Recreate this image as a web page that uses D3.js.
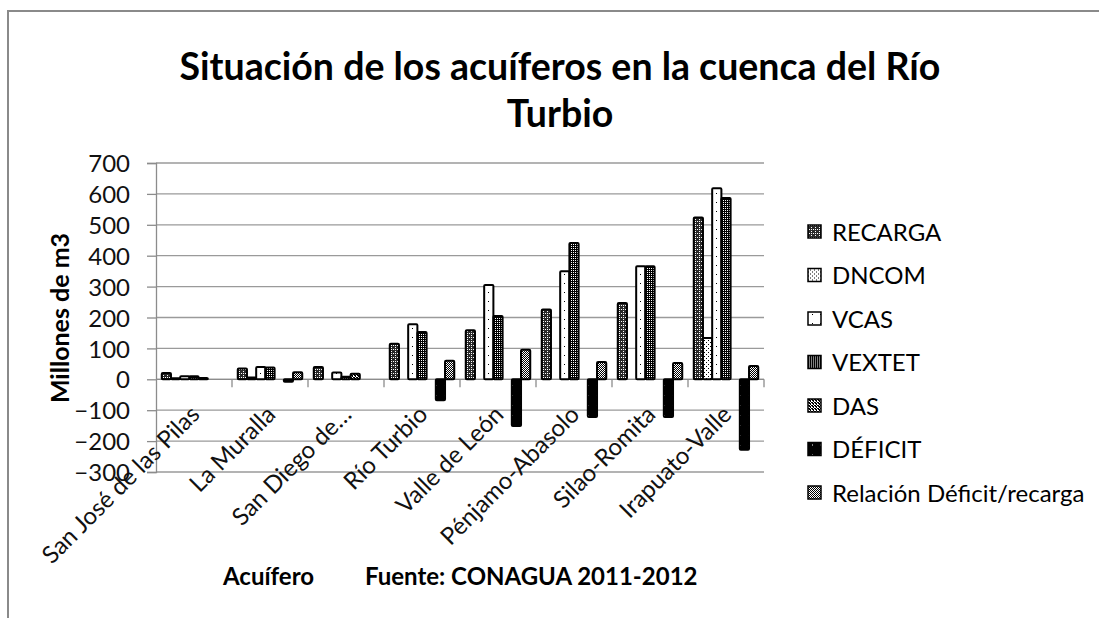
<!DOCTYPE html>
<html>
<head>
  <meta charset="utf-8">
  <script src="https://cdn.jsdelivr.net/npm/d3@7"></script>
  <style type="text/css">
    body {
      margin: 0;
      background: #fff;
      font-family: Lato, "Open Sans", sans-serif;
    }
    .grid line {
      stroke: #9a9a9a;
      stroke-width: 1.3px;
    }
    .axis path, .axis line {
      stroke: #8c8c8c;
      stroke-width: 1.3px;
    }
    .axis text {
      font-family: Lato, sans-serif;
      font-size: 24px;
      fill: #111;
    }
    rect.bar {
      stroke: #000;
      stroke-width: 2px;
    }
  </style>
</head>
<body>
  <script type="text/javascript">

  // data (millones de m3)
  const categories = ['San José de las Pilas', 'La Muralla', 'San Diego de…', 'Río Turbio',
                      'Valle de León', 'Pénjamo-Abasolo', 'Silao-Romita', 'Irapuato-Valle'];
  const seriesNames = ['RECARGA', 'DNCOM', 'VCAS', 'VEXTET', 'DAS', 'DÉFICIT', 'Relación Déficit/recarga'];
  const recarga  = [20, 35, 40, 115, 159, 226, 247, 524];
  const dncom    = [3, 6, 0, 0, 0, 0, 0, 134];
  const vcas     = [10, 40, 22, 178, 305, 350, 366, 618];
  const vextet   = [10, 38, 8, 153, 205, 441, 366, 587];
  const das      = [4, 0, 18, 0, 0, 0, 0, 0];
  const deficit  = [0, -8, 0, -68, -151, -122, -122, -228];
  const relacion = [0, 23, 0, 60, 96, 56, 53, 43];
  const yTicks   = [-300, -200, -100, 0, 100, 200, 300, 400, 500, 600, 700];

  const seriesValues = [recarga, dncom, vcas, vextet, das, deficit, relacion];

  const W = 1099, H = 618;
  const plot = {left: 156, right: 764, top: 163, bottom: 472};

  const svg = d3.select('body').append('svg')
    .attr('width', W)
    .attr('height', H);

  // fill patterns (grayscale like the original print-style chart)
  const defs = svg.append('defs');
  function pattern(id, w, h, bg, fg, dots) {
    const p = defs.append('pattern')
      .attr('id', id)
      .attr('patternUnits', 'userSpaceOnUse')
      .attr('width', w).attr('height', h);
    p.append('rect').attr('width', w).attr('height', h).attr('fill', bg);
    dots.forEach(d => p.append('rect')
      .attr('x', d[0]).attr('y', d[1]).attr('width', 1).attr('height', 1).attr('fill', fg));
  }
  pattern('p0', 4, 4, '#2a2a2a', '#fff', [[1, 1], [3, 3], [3, 1]]);
  pattern('p1', 4, 4, '#fff', '#000', [[0, 0], [2, 2]]);
  pattern('p2', 8, 9, '#fff', '#000', [[4, 4]]);
  pattern('p3', 2, 2, '#000', '#fff', [[1, 0]]);
  pattern('p4', 3, 3, '#000', '#fff', [[0, 0], [1, 1], [2, 2], [0, 1]]);
  pattern('p5', 8, 10, '#000', '#fff', [[4, 5]]);
  pattern('p6', 2, 2, '#000', '#fff', [[0, 0], [1, 1]]);

  // outer frame
  svg.append('rect')
    .attr('x', 8).attr('y', 11)
    .attr('width', W + 20).attr('height', H + 20)
    .attr('fill', 'none')
    .attr('stroke', '#8a8a8a')
    .attr('stroke-width', 2);

  // scales
  const y = d3.scaleLinear().domain([-300, 700]).range([plot.bottom, plot.top]);
  const x0 = d3.scaleBand().domain(categories).range([plot.left, plot.right]).padding(0);
  const bw = x0.bandwidth();
  const gap = bw * 1.25 / (seriesNames.length + 1.25);
  const x1 = d3.scaleBand().domain(seriesNames).range([gap / 2, bw - gap / 2]).padding(0);

  // gridlines
  svg.append('g').attr('class', 'grid')
    .selectAll('line').data(yTicks).join('line')
    .attr('x1', plot.left).attr('x2', plot.right)
    .attr('y1', d => y(d)).attr('y2', d => y(d));

  // y axis
  const yaxis = d3.axisLeft(y).tickValues(yTicks).tickSize(9).tickPadding(17);
  svg.append('g').attr('class', 'y axis')
    .attr('transform', `translate(${plot.left},0)`)
    .call(yaxis)
    .call(g => g.selectAll('.tick text').attr('dy', '0.36em'));

  // category axis along zero
  const xa = svg.append('g').attr('class', 'x axis');
  xa.append('line')
    .attr('x1', plot.left).attr('x2', plot.right)
    .attr('y1', y(0)).attr('y2', y(0));
  xa.selectAll('line.tk').data(categories.slice(1).concat(['end'])).join('line')
    .attr('class', 'tk')
    .attr('x1', d => d === 'end' ? plot.right : x0(d))
    .attr('x2', d => d === 'end' ? plot.right : x0(d))
    .attr('y1', y(0)).attr('y2', y(0) + 8);
  xa.selectAll('text').data(categories).join('text')
    .attr('text-anchor', 'end')
    .attr('transform', d => `translate(${x0(d) + bw / 2 + 7},416) rotate(-45)`)
    .text(d => d);

  // bars
  const groups = svg.append('g').selectAll('g').data(categories).join('g')
    .attr('transform', d => `translate(${x0(d)},0)`);
  groups.selectAll('rect').data((c, i) => seriesNames.map((s, k) => ({s: s, k: k, v: seriesValues[k][i]})))
    .join('rect')
    .filter(d => d.v !== 0)
    .attr('class', 'bar')
    .attr('x', d => x1(d.s))
    .attr('width', x1.bandwidth())
    .attr('y', d => y(Math.max(0, d.v)))
    .attr('height', d => Math.abs(y(d.v) - y(0)))
    .attr('rx', 1)
    .attr('fill', d => `url(#p${d.k})`);

  // legend
  const legend = svg.append('g').selectAll('g').data(seriesNames).join('g')
    .attr('transform', (d, i) => `translate(808,${232 + i * 43.5})`);
  legend.append('rect')
    .attr('x', 0).attr('y', -7)
    .attr('width', 13).attr('height', 13)
    .attr('stroke', '#000').attr('stroke-width', 1.5)
    .attr('fill', (d, i) => `url(#p${i})`);
  legend.append('text')
    .attr('x', 24).attr('dy', '0.36em')
    .style('font-size', '24px')
    .text(d => d);

  // title, two lines
  const title = svg.append('g')
    .attr('text-anchor', 'middle')
    .style('font-weight', 'bold')
    .style('font-size', '37.5px');
  title.append('text').attr('x', 560).attr('y', 80).text('Situación de los acuíferos en la cuenca del Río');
  title.append('text').attr('x', 560).attr('y', 127).text('Turbio');

  // axis titles
  svg.append('text')
    .attr('transform', 'translate(69,318) rotate(-90)')
    .attr('text-anchor', 'middle')
    .style('font-weight', 'bold')
    .style('font-size', '25px')
    .text('Millones de m3');

  svg.append('text')
    .attr('x', 223).attr('y', 585)
    .style('font-weight', 'bold')
    .style('font-size', '24px')
    .text('Acuífero');
  svg.append('text')
    .attr('x', 365).attr('y', 585)
    .style('font-weight', 'bold')
    .style('font-size', '24px')
    .text('Fuente: CONAGUA 2011-2012');

  </script>
</body>
</html>
